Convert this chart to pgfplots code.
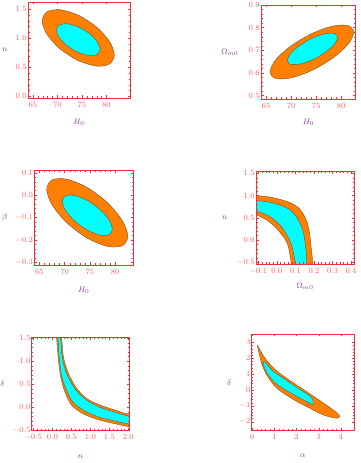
\documentclass[border=0pt]{standalone}
\usepackage{pgfplots}
\pgfplotsset{compat=1.18}

\definecolor{frame}{RGB}{245,45,55}
\definecolor{ticklab}{RGB}{255,95,95}
\definecolor{labc}{RGB}{140,60,150}
\definecolor{orng}{RGB}{255,128,0}
\definecolor{cyn}{RGB}{0,255,255}
\definecolor{edge}{RGB}{120,80,40}

\pgfplotsset{
  panel/.style={
    scale only axis, axis on top,
    axis line style={frame, line width=0.6pt},
    every tick/.style={frame, line width=0.3pt},
    major tick length=2.5pt, minor tick length=1.5pt,
    minor tick num=4,
    tick label style={font=\fontsize{8}{9}\selectfont, text=ticklab, inner sep=1.2pt},
    xticklabel style={yshift=-2.5pt},
    label style={font=\fontsize{8.5}{9}\selectfont, text=labc},
    ylabel style={rotate=-90, anchor=center},
    xlabel style={anchor=center},
  },
  dec1/.style={/pgf/number format/fixed, /pgf/number format/zerofill, /pgf/number format/precision=1},
  outer/.style={fill=orng, draw=edge, line width=0.4pt},
  inner/.style={fill=cyn, draw=edge, line width=0.4pt},
}

\begin{document}
\begin{tikzpicture}[x=1pt,y=1pt]
\useasboundingbox (0,0) rectangle (360,463);

% n vs H0
\begin{axis}[panel, at={(28pt,365pt)}, anchor=south west,
  width=102pt, height=96pt,
  xmin=64, xmax=84.8, ymin=-0.03, ymax=1.625,
  xtick={65,70,75,80}, ytick={0,0.5,1,1.5},
  yticklabel style={dec1},
  xlabel={$H_0$}, ylabel={$n$},
  xlabel style={at={(axis description cs:0.5,-0.25)}},
  ylabel style={at={(axis description cs:-0.225,0.5)}}]
\addplot[outer, smooth cycle] coordinates {(81.60,0.712) (80.62,0.556) (77.93,0.520) (74.25,0.615) (70.57,0.815) (67.88,1.066) (66.90,1.300) (67.88,1.456) (70.57,1.492) (74.25,1.397) (77.93,1.197) (80.62,0.946)};
\addplot[inner, smooth cycle] coordinates {(78.70,0.809) (78.10,0.722) (76.48,0.702) (74.25,0.755) (72.03,0.867) (70.40,1.009) (69.80,1.141) (70.40,1.228) (72.03,1.248) (74.25,1.195) (76.48,1.083) (78.10,0.941)};
\end{axis}

% Omega_m0 vs H0
\begin{axis}[panel, at={(261pt,364pt)}, anchor=south west,
  width=94.7pt, height=94pt,
  xmin=64, xmax=82.9, ymin=0.485, ymax=0.9,
  xtick={65,70,75,80}, ytick={0.5,0.6,0.7,0.8,0.9},
  yticklabel style={dec1},
  xlabel={$H_0$}, ylabel={$\Omega_{m0}$},
  xlabel style={at={(axis description cs:0.5,-0.25)}},
  ylabel style={at={(axis description cs:-0.33,0.5)}}]
\addplot[outer, smooth cycle] coordinates {(82.50,0.780) (81.38,0.727) (78.33,0.666) (74.15,0.611) (69.97,0.578) (66.92,0.576) (65.80,0.605) (66.92,0.658) (69.97,0.719) (74.15,0.774) (78.33,0.807) (81.38,0.809)};
\addplot[inner, smooth cycle] coordinates {(79.27,0.757) (78.60,0.726) (76.77,0.690) (74.27,0.658) (71.77,0.639) (69.94,0.638) (69.27,0.655) (69.94,0.686) (71.77,0.722) (74.27,0.754) (76.77,0.773) (78.60,0.774)};
\end{axis}

% beta vs H0
\begin{axis}[panel, at={(34.3pt,198pt)}, anchor=south west,
  width=99pt, height=94.3pt,
  xmin=64, xmax=83.6, ymin=-0.312, ymax=0.109,
  xtick={65,70,75,80}, ytick={-0.3,-0.2,-0.1,0,0.1},
  yticklabel style={dec1},
  xlabel={$H_0$}, ylabel={$\beta$},
  xlabel style={at={(axis description cs:0.5,-0.265)}},
  ylabel style={at={(axis description cs:-0.30,0.5)}}]
\addplot[outer, smooth cycle] coordinates {(82.51,-0.184) (81.43,-0.226) (78.50,-0.229) (74.48,-0.192) (70.46,-0.124) (67.53,-0.044) (66.45,0.026) (67.53,0.068) (70.46,0.071) (74.48,0.034) (78.50,-0.034) (81.43,-0.114)};
\addplot[inner, smooth cycle] coordinates {(79.45,-0.152) (78.79,-0.177) (76.98,-0.178) (74.5,-0.156) (72.03,-0.116) (70.21,-0.070) (69.55,-0.028) (70.21,-0.003) (72.03,-0.002) (74.5,-0.024) (76.98,-0.064) (78.79,-0.110)};
\end{axis}

% n vs Omega_m0
\begin{axis}[panel, at={(256pt,199pt)}, anchor=south west,
  width=98pt, height=92.3pt,
  xmin=-0.1126, xmax=0.416, ymin=-0.537, ymax=1.537,
  xtick={-0.1,0,0.1,0.2,0.3,0.4}, ytick={-0.5,0,0.5,1,1.5},
  xticklabel style={dec1}, yticklabel style={dec1},
  xlabel={$\Omega_{m0}$}, ylabel={$n$},
  xlabel style={at={(axis description cs:0.5,-0.245)}},
  ylabel style={at={(axis description cs:-0.32,0.5)}}]
\addplot[outer, smooth] coordinates {(-0.16,1.01) (-0.11,0.998) (-0.05,0.975) (0.017,0.916) (0.06,0.86) (0.089,0.805) (0.115,0.735) (0.134,0.639) (0.150,0.53) (0.163,0.40) (0.172,0.25) (0.178,0.10) (0.186,-0.2) (0.193,-0.5) (0.197,-0.8) (0.080,-0.8) (0.077,-0.5) (0.062,-0.148) (0.050,-0.03) (0.035,0.077) (0.015,0.18) (-0.001,0.264) (-0.03,0.37) (-0.055,0.451) (-0.085,0.52) (-0.11,0.564) (-0.16,0.59)};
\addplot[inner, smooth] coordinates {(-0.16,0.905) (-0.11,0.886) (-0.05,0.86) (-0.001,0.811) (0.04,0.75) (0.071,0.676) (0.095,0.58) (0.116,0.451) (0.132,0.30) (0.145,0.13) (0.155,-0.15) (0.162,-0.5) (0.165,-0.8) (0.100,-0.8) (0.098,-0.5) (0.085,-0.2) (0.075,-0.06) (0.060,0.07) (0.040,0.21) (0.017,0.339) (-0.01,0.44) (-0.037,0.526) (-0.075,0.60) (-0.11,0.654) (-0.16,0.675)};
\end{axis}

% delta vs n
\begin{axis}[panel, at={(31.7pt,32.3pt)}, anchor=south west,
  width=97.6pt, height=93.4pt,
  xmin=-0.544, xmax=2.026, ymin=-0.515, ymax=1.522,
  xtick={-0.5,0,0.5,1,1.5,2}, ytick={-0.5,0,0.5,1,1.5},
  xticklabel style={dec1}, yticklabel style={dec1},
  xlabel={$n$}, ylabel={$\delta$},
  xlabel style={at={(axis description cs:0.5,-0.28)}},
  ylabel style={at={(axis description cs:-0.30,0.5)}}]
\addplot[outer, smooth] coordinates {(0.065,2.0) (0.115,1.478) (0.16,1.03) (0.22,0.66) (0.33,0.33) (0.51,0.04) (0.82,-0.15) (1.25,-0.285) (1.69,-0.37) (2.0,-0.425) (2.4,-0.47) (2.4,-0.12) (2.0,-0.15) (1.69,-0.075) (1.25,0.045) (0.90,0.19) (0.64,0.41) (0.42,0.74) (0.29,1.10) (0.25,1.478) (0.195,2.0)};
\addplot[inner, smooth] coordinates {(0.11,2.0) (0.15,1.478) (0.185,1.03) (0.25,0.66) (0.38,0.36) (0.55,0.10) (0.86,-0.09) (1.25,-0.225) (1.69,-0.31) (2.0,-0.365) (2.4,-0.40) (2.4,-0.22) (2.0,-0.195) (1.69,-0.12) (1.25,-0.005) (0.90,0.155) (0.62,0.37) (0.39,0.70) (0.27,1.03) (0.22,1.478) (0.18,2.0)};
\end{axis}

% delta vs alpha
\begin{axis}[panel, at={(251.7pt,32.3pt)}, anchor=south west,
  width=102.3pt, height=96.7pt,
  xmin=-0.03, xmax=4.6, ymin=-2.567, ymax=3.525,
  xtick={0,1,2,3,4}, ytick={-2,-1,0,1,2,3},
  xlabel={$\alpha$}, ylabel={$\delta$},
  xlabel style={at={(axis description cs:0.5,-0.26)}},
  ylabel style={at={(axis description cs:-0.22,0.5)}}]
\addplot[outer, smooth] coordinates {(0.226,2.83) (0.574,1.99) (1.10,1.20) (1.857,0.45) (2.61,-0.25) (3.37,-0.97) (3.85,-1.47) (3.95,-1.66) (3.80,-1.78) (3.22,-1.58) (2.61,-1.16) (1.857,-0.60) (1.10,0.12) (0.65,0.94) (0.42,1.68) (0.27,2.52) (0.226,2.83)};
\addplot[inner, smooth] coordinates {(2.76,-0.95) (2.31,-0.63) (1.71,-0.17) (1.10,0.37) (0.725,0.94) (0.528,1.47) (0.498,1.72) (0.574,1.78) (0.875,1.26) (1.404,0.73) (2.008,0.16) (2.61,-0.38) (2.73,-0.59) (2.76,-0.95)};
\end{axis}
\end{tikzpicture}
\end{document}
